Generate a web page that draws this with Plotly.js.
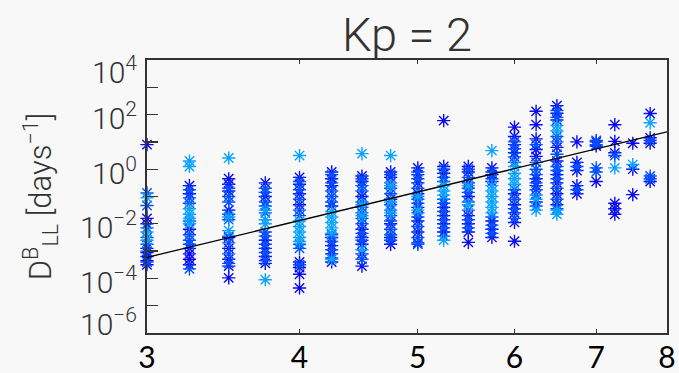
<!DOCTYPE html>
<html>
<head>
<meta charset="utf-8">
<script src="https://cdn.plot.ly/plotly-3.0.1.min.js"></script>
<style>html,body{margin:0;padding:0;background:#f8f8f8;}#chart{width:679px;height:373px;}</style>
</head>
<body>
<div id="chart"></div>
<script>
// ---- data: [L, log10(D_LL^B in days^-1)] ----
const mediumPoints = [
  [3.0,-0.87],[3.0,-1.33],[3.0,-2.15],[3.0,-2.5],[3.0,-2.75],[3.0,-3.0],[3.0,-3.4],
  [3.25,-0.75],[3.25,-1.05],[3.25,-1.25],[3.25,-1.9],[3.25,-2.4],[3.25,-2.6],[3.25,-2.75],[3.25,-3.65],
  [3.5,-0.7],[3.5,-1.0],[3.5,-1.2],[3.5,-1.65],[3.5,-1.85],[3.5,-2.45],[3.5,-2.7],[3.5,-3.1],[3.5,-3.45],
  [3.75,-0.7],[3.75,-0.85],[3.75,-1.2],[3.75,-1.35],[3.75,-1.6],[3.75,-2.3],[3.75,-2.45],[3.75,-2.75],[3.75,-3.05],[3.75,-3.35],
  [4.0,-0.45],[4.0,-0.75],[4.0,-1.1],[4.0,-1.5],[4.0,-1.7],[4.0,-2.75],[4.0,-2.9],[4.0,-3.5],
  [4.25,-0.2],[4.25,-0.5],[4.25,-0.8],[4.25,-1.0],[4.25,-1.2],[4.25,-2.4],[4.25,-2.65],[4.25,-2.95],[4.25,-3.25],
  [4.5,-0.35],[4.5,-0.6],[4.5,-0.8],[4.5,-1.2],[4.5,-1.4],[4.5,-1.6],[4.5,-1.8],[4.5,-2.0],[4.5,-2.35],[4.5,-2.6],[4.5,-3.3],
  [4.75,-0.2],[4.75,-0.5],[4.75,-0.7],[4.75,-0.9],[4.75,-1.3],[4.75,-1.5],[4.75,-1.7],[4.75,-1.9],[4.75,-2.2],[4.75,-2.4],[4.75,-2.6],
  [5.0,-0.1],[5.0,-0.35],[5.0,-0.7],[5.0,-1.1],[5.0,-1.25],[5.0,-1.6],[5.0,-1.75],[5.0,-2.1],[5.0,-2.5],[5.0,-2.75],
  [5.25,0.0],[5.25,-0.3],[5.25,-0.45],[5.25,-1.1],[5.25,-1.25],[5.25,-1.55],[5.25,-1.85],[5.25,-2.15],[5.25,-2.45],
  [5.5,0.0],[5.5,-0.3],[5.5,-0.7],[5.5,-0.85],[5.5,-1.2],[5.5,-1.5],[5.5,-1.85],[5.5,-2.15],
  [5.75,-0.1],[5.75,-0.35],[5.75,-1.75],[5.75,-2.05],[5.75,-2.35],
  [6.0,1.0],[6.0,0.75],[6.0,0.45],[6.0,0.25],[6.0,-0.75],[6.0,-1.1],[6.0,-1.45],[6.0,-1.8],
  [6.25,0.9],[6.25,0.25],[6.25,0.0],[6.25,-0.2],[6.25,-0.5],[6.25,-0.75],[6.25,-0.95],[6.25,-1.35],
  [6.5,2.15],[6.5,1.9],[6.5,1.2],[6.5,1.0],[6.5,0.55],[6.5,0.1],[6.5,-0.05],[6.5,-0.35],[6.5,-0.7],[6.5,-1.1],[6.5,-1.45],
  [6.75,0.1],[6.75,-0.75],
  [7.0,1.05],[7.0,0.9],[7.0,0.05],[7.0,-0.1],
  [7.25,0.5],
  [7.75,1.05],[7.75,-0.25],[7.75,-0.35]
];
const darkPoints = [
  [3.0,0.9],[3.0,-1.8],[3.0,-2.0],[3.0,-2.9],[3.0,-3.05],[3.0,-3.2],[3.0,-3.35],[3.0,-3.5],
  [3.25,-0.6],[3.25,-0.9],[3.25,-2.2],[3.25,-2.9],[3.25,-3.1],[3.25,-3.3],[3.25,-3.5],
  [3.5,-0.35],[3.5,-0.55],[3.5,-0.8],[3.5,-1.5],[3.5,-2.5],[3.5,-2.9],[3.5,-3.3],[3.5,-3.55],[3.5,-3.98],
  [3.75,-0.5],[3.75,-1.0],[3.75,-2.6],[3.75,-2.9],[3.75,-3.2],[3.75,-3.45],
  [4.0,-0.3],[4.0,-0.55],[4.0,-0.9],[4.0,-1.3],[4.0,-3.4],[4.0,-3.6],[4.0,-3.85],[4.0,-4.35],
  [4.25,-0.1],[4.25,-0.35],[4.25,-0.6],[4.25,-1.35],[4.25,-2.5],[4.25,-2.8],[4.25,-3.1],[4.25,-3.4],
  [4.5,-0.25],[4.5,-0.45],[4.5,-1.0],[4.5,-2.2],[4.5,-2.5],[4.5,-2.75],[4.5,-3.1],[4.5,-3.55],
  [4.75,-0.1],[4.75,-0.3],[4.75,-1.1],[4.75,-2.0],[4.75,-2.5],[4.75,-2.75],
  [5.0,0.05],[5.0,-0.2],[5.0,-0.5],[5.0,-0.9],[5.0,-1.4],[5.0,-1.9],[5.0,-2.3],[5.0,-2.7],
  [5.25,1.78],[5.25,0.1],[5.25,-0.15],[5.25,-1.4],[5.25,-1.7],[5.25,-2.0],[5.25,-2.3],
  [5.5,0.1],[5.5,-0.1],[5.5,-0.5],[5.5,-1.0],[5.5,-1.7],[5.5,-2.0],[5.5,-2.3],[5.5,-2.68],
  [5.75,0.05],[5.75,-0.2],[5.75,-0.45],[5.75,-1.9],[5.75,-2.2],[5.75,-2.5],
  [6.0,1.54],[6.0,1.2],[6.0,0.9],[6.0,0.6],[6.0,-0.9],[6.0,-1.3],[6.0,-1.6],[6.0,-1.95],[6.0,-2.64],
  [6.25,2.12],[6.25,1.63],[6.25,1.11],[6.25,0.72],[6.25,0.47],[6.25,-0.35],[6.25,-0.6],[6.25,-1.2],
  [6.5,2.33],[6.5,2.05],[6.5,1.8],[6.5,0.8],[6.5,0.3],[6.5,-0.2],[6.5,-0.5],[6.5,-0.9],[6.5,-1.3],
  [6.75,1.0],[6.75,0.25],[6.75,-0.05],[6.75,-0.6],[6.75,-0.9],
  [7.0,1.0],[7.0,0.85],[7.0,-0.45],
  [7.25,1.63],[7.25,1.02],[7.25,0.6],[7.25,-1.25],[7.25,-1.45],[7.25,-1.65],
  [7.5,0.95],[7.5,0.0],[7.5,-0.93],
  [7.75,2.04],[7.75,1.15],[7.75,0.95],[7.75,-0.45]
];
const lightPoints = [
  [3.0,-1.05],[3.0,-2.3],[3.0,-2.6],
  [3.25,0.3],[3.25,0.1],[3.25,-1.45],[3.25,-1.65],[3.25,-1.8],[3.25,-2.0],
  [3.5,0.41],[3.5,-1.75],[3.5,-2.25],
  [3.75,-1.5],[3.75,-1.85],[3.75,-2.0],[3.75,-4.05],
  [4.0,0.5],[4.0,-1.9],[4.0,-2.1],[4.0,-2.3],[4.0,-2.5],[4.0,-2.65],
  [4.25,-1.55],[4.25,-1.75],[4.25,-1.95],[4.25,-2.15],[4.25,-2.35],[4.25,-3.3],
  [4.5,0.57],[4.5,-1.3],[4.5,-1.7],[4.5,-2.95],
  [4.75,0.5],[4.75,-0.6],[4.75,-1.2],[4.75,-1.6],
  [5.0,-1.0],[5.0,-1.5],
  [5.25,-0.6],[5.25,-0.8],[5.25,-0.95],[5.25,-2.6],
  [5.5,-0.6],[5.5,-1.3],
  [5.75,0.68],[5.75,-0.6],[5.75,-0.8],[5.75,-1.0],[5.75,-1.2],[5.75,-1.4],[5.75,-1.6],
  [6.0,0.1],[6.0,-0.15],[6.0,-0.35],[6.0,-0.55],
  [6.25,-1.5],[6.25,-1.1],
  [6.5,1.6],[6.5,1.4],[6.5,-1.65],[6.5,-1.5],
  [7.25,0.05],
  [7.5,0.17],
  [7.75,1.7]
];
// fitted power-law line (read at the plot edges)
const fitL = [3, 8];
const fitLogD = [-3.23, 1.37];
// tick labels
const xTicks = [3, 4, 5, 6, 7, 8];
const yDecades = [-6, -5, -4, -3, -2, -1, 0, 1, 2, 3, 4];
const yLabelExps = [4, 2, 0, -2, -4, -6];

const colors = {medium: '#0050ff', dark: '#0a0af2', light: '#0aa2ff'};

function pts(list, color, name) {
  return {
    type: 'scatter', mode: 'markers', name: name, cliponaxis: false,
    x: list.map(p => p[0]),
    y: list.map(p => Math.pow(10, p[1])),
    marker: {symbol: 'asterisk-open', size: 11, color: color, line: {color: color, width: 1.4}},
    hoverinfo: 'x+y'
  };
}

const traces = [
  pts(darkPoints, colors.dark, 'dark'),
  pts(mediumPoints, colors.medium, 'medium'),
  pts(lightPoints, colors.light, 'light'),
  {type: 'scatter', mode: 'lines', x: fitL, y: fitLogD.map(v => Math.pow(10, v)),
   line: {color: '#000', width: 1.3}, name: 'fit'}
];

const tickVals = yDecades.map(e => Math.pow(10, e));
const fmtExp = e => '10<sup>' + (e < 0 ? '\u2212' + (-e) : e) + '</sup>';

const annotations = yLabelExps.map((e, i) => ({
  xref: 'paper', yref: 'y', x: 0, y: e,
  xanchor: 'right',
  yanchor: i === 0 ? 'top' : (i === yLabelExps.length - 1 ? 'bottom' : 'middle'),
  yshift: i === 0 ? 10 : (i === yLabelExps.length - 1 ? -10 : -2),
  xshift: -9, showarrow: false, borderpad: 0,
  text: fmtExp(e),
  font: {family: 'Roboto', size: 30, weight: 300, color: '#333'}
}));

const xMin = Math.log10(xTicks[0]) - 1e-6;
const xMax = Math.log10(xTicks[xTicks.length - 1]) + 1e-6;

const layout = {
  width: 679, height: 373,
  margin: {l: 147, r: 12, t: 60, b: 40},
  paper_bgcolor: '#f8f8f8', plot_bgcolor: '#f8f8f8',
  showlegend: false,
  title: {text: 'Kp = 2', xref: 'paper', x: 0.5, xanchor: 'center',
          yref: 'container', y: 0.952, yanchor: 'top',
          font: {family: 'Roboto', size: 47, weight: 300, color: '#333'}},
  xaxis: {type: 'log', range: [xMin, xMax],
          tickvals: xTicks, ticktext: xTicks.map(String),
          ticks: 'inside', ticklen: 4, tickwidth: 1.3, tickcolor: '#333',
          showline: true, linecolor: '#333', linewidth: 1.6, mirror: 'ticks',
          showgrid: false, zeroline: false,
          tickfont: {family: 'Lato', size: 30, color: '#000'}, ticklabelstandoff: -3},
  yaxis: {type: 'log', range: [-6, 4], tickvals: tickVals,
          ticks: 'inside', ticklen: 11, tickwidth: 1.3, tickcolor: '#333',
          showline: true, linecolor: '#333', linewidth: 1.6, mirror: true,
          showgrid: false, zeroline: false, showticklabels: false,
          title: {text: 'D<sup>B</sup><sub>LL</sub> [days<sup>\u22121</sup>]', standoff: 84,
                  font: {family: 'Roboto', size: 31, weight: 300, color: '#333'}}},
  yaxis2: {type: 'log', range: [-6, 4], tickvals: tickVals, overlaying: 'y', side: 'right',
           ticks: 'inside', ticklen: 5, tickwidth: 1.3, tickcolor: '#333',
           showline: false, showgrid: false, zeroline: false, showticklabels: false},
  annotations: annotations
};

Plotly.newPlot('chart', traces, layout, {staticPlot: true, displayModeBar: false});
</script>
</body>
</html>
